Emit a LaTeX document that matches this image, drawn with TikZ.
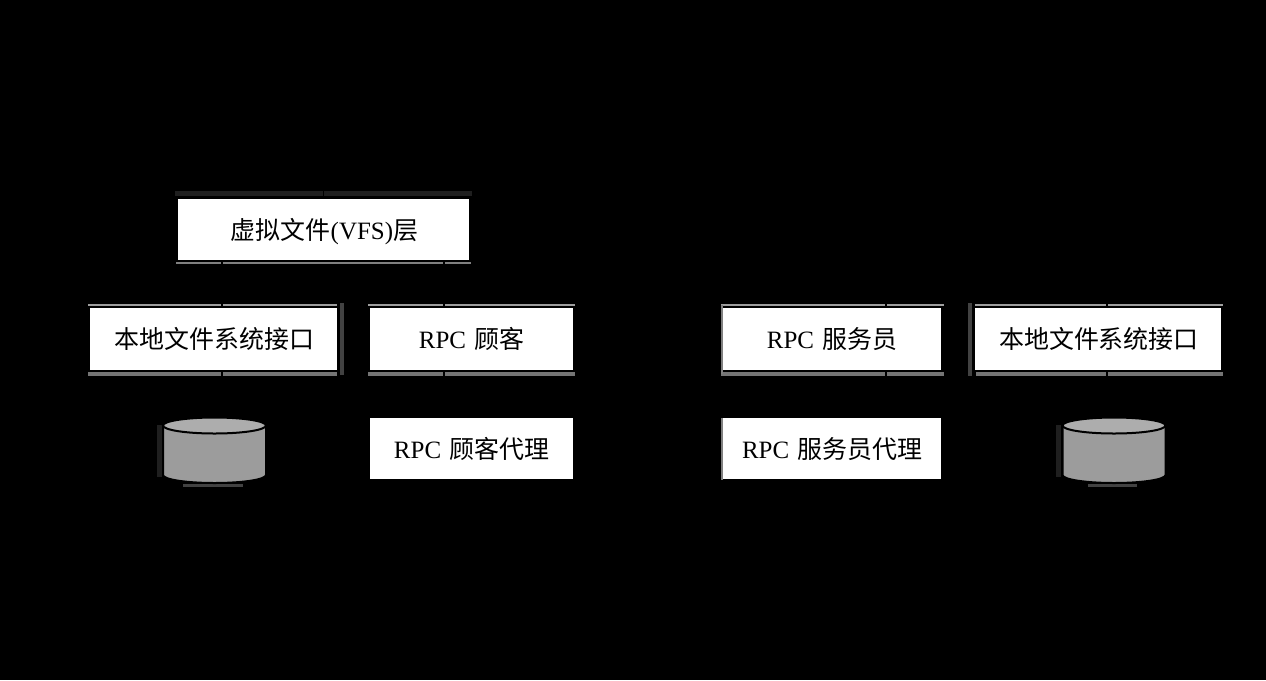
\documentclass[tikz,border=0pt]{standalone}
\usepackage{fontspec}
\setmainfont{Liberation Serif}
\newfontfamily\cjk{Noto Sans CJK SC}
\usepackage{tikz}
\def\px{0.02cm}
\newcommand{\rpcname}{RPC\hspace{4.6pt}}
\tikzset{
	boxnode/.style 2 args={fill=white, text=black, inner sep=0pt, text height=14pt, text depth=3pt, minimum width=#1*\px, minimum height=#2*\px, font=\fontsize{14.2pt}{17pt}\selectfont},
	rimline/.style={draw=black!38, line width=2*\px},
	rimfat/.style={draw=black!54, line width=3.6*\px},
	rimdim/.style={draw=black!74, line width=3.6*\px},
	rimhaze/.style={draw=black!88, line width=5*\px},
	rimthin/.style={draw=black!50, line width=2*\px},
	linkline/.style={draw=black, line width=1.2*\px},
	diskbody/.style={draw=black, line width=2*\px, fill=black!39},
	disktop/.style={draw=black, line width=2*\px, fill=black!32},
}
\begin{document}
\begin{tikzpicture}[x=\px, y=-\px]
	\fill[black] (0,0) rectangle (1266,680);
	%rims that stay visible round the boxes
	\draw[rimhaze] (175,193.5)--(472,193.5);
	\draw[rimthin] (176,262.7)--(471,262.7);
	\draw[rimline] (88,305.2)--(337,305.2);
	\draw[rimfat] (88,374)--(337,374);
	\draw[rimdim] (342,303)--(342,375);
	\draw[rimline] (368,305.2)--(575,305.2);
	\draw[rimfat] (368,374)--(575,374);
	\draw[rimline] (721,305.2)--(944,305.2);
	\draw[rimfat] (721,374)--(944,374);
	\draw[rimthin] (721.5,305)--(721.5,374);
	\draw[rimthin] (721.5,418)--(721.5,480);
	\draw[rimline] (975,305.2)--(1223,305.2);
	\draw[rimfat] (976,374)--(1223,374);
	\draw[rimdim] (970,303)--(970,376);
	%boxes
	\node[boxnode={291}{61}] (vfs) at (323.5,229.5) {\hspace{1.1pt}{\cjk 虚拟文件}(VFS){\cjk 层}};
	\node[boxnode={247}{62}] (localA) at (213.5,339) {\hspace{1.1pt}\cjk 本地文件系统接口};
	\node[boxnode={203}{62}] (clientA) at (471.5,339) {\rpcname{\cjk 顾客}};
	\node[boxnode={203}{61}] (stubA) at (471.5,448.5) {\rpcname{\cjk 顾客代理}};
	\node[boxnode={218}{62}] (serverB) at (832,339) {\rpcname{\cjk 服务员}};
	\node[boxnode={246}{62}] (localB) at (1098,339) {\hspace{1.1pt}\cjk 本地文件系统接口};
	\node[boxnode={218}{61}] (stubB) at (832,448.5) {\rpcname{\cjk 服务员代理}};
	%disks
	\draw[rimhaze] (159,425)--(159,477);
	\draw[rimdim] (183,485.5)--(243,485.5);
	\draw[diskbody] (163,425) -- (163,475) arc [start angle=180, end angle=0, x radius=51.5, y radius=8] -- (266,425) -- cycle;
	\draw[disktop] (214.5,425.5) circle [x radius=51.5, y radius=8];
	\coordinate (diskA) at (214.5,417.5);
	\draw[rimhaze] (1058.5,425)--(1058.5,477);
	\draw[rimdim] (1088,485.5)--(1137,485.5);
	\draw[diskbody] (1062.5,425) -- (1062.5,475) arc [start angle=180, end angle=0, x radius=51.5, y radius=8] -- (1165.5,425) -- cycle;
	\draw[disktop] (1114,425.5) circle [x radius=51.5, y radius=8];
	\coordinate (diskB) at (1114,417.5);
	%connectors, black on black
	\coordinate (tapA) at (222,0);
	\coordinate (tapB) at (444,0);
	\coordinate (tapC) at (886,0);
	\coordinate (tapD) at (1107,0);
	\coordinate (upA) at (323.5,170);
	\coordinate (upC) at (886,285);
	\coordinate (upD) at (1107,285);
	\draw[linkline] (upA)--(vfs.north);
	\draw[linkline] (vfs.south -| tapA)--(localA.north -| tapA);
	\draw[linkline] (vfs.south -| tapB)--(clientA.north -| tapB);
	\draw[linkline] (localA.south -| tapA)--(diskA -| tapA);
	\draw[linkline] (clientA.south -| tapB)--(stubA.north -| tapB);
	\draw[linkline] (upC)--(serverB.north -| tapC);
	\draw[linkline] (upD)--(localB.north -| tapD);
	\draw[linkline] (serverB.south -| tapC)--(stubB.north -| tapC);
	\draw[linkline] (localB.south -| tapD)--(diskB -| tapD);
\end{tikzpicture}
\end{document}
